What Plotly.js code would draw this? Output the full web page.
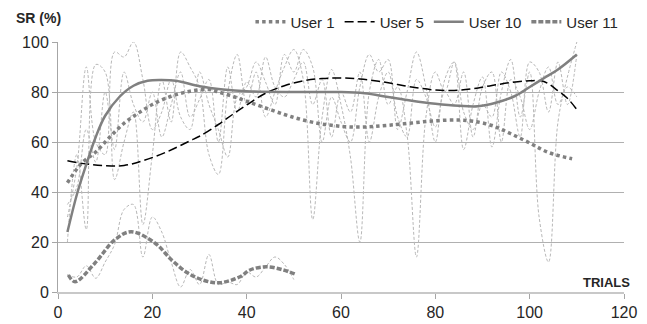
<!DOCTYPE html>
<html>
<head>
<meta charset="utf-8">
<script src="https://cdn.plot.ly/plotly-3.0.1.min.js"></script>
<style>html,body{margin:0;padding:0;background:#fff;}#chart{width:647px;height:324px;}</style>
</head>
<body>
<div id="chart"></div>
<script>
// Trend lines
var u1X = [2, 5, 8, 11, 14, 17, 20, 24, 28, 32, 34, 37, 40, 44, 48, 51, 55, 58, 62, 66, 70, 75, 80, 85, 88, 92, 96, 100, 104, 109];
var u1Y = [43.7, 51.5, 56, 62, 67.5, 71.5, 75, 78.3, 80.3, 81, 80, 78.3, 76.3, 73.6, 71, 69.3, 67.5, 66.7, 66, 66.1, 66.7, 67.6, 68.5, 68.8, 68.3, 66.6, 63.3, 59.6, 55.8, 53.3];

var u5X = [2, 6, 10, 14, 18, 23, 28, 30, 34, 37, 40, 44, 48, 52, 56, 60, 64, 68, 72, 76, 80, 84, 88, 92, 96, 100, 103, 106, 108, 110];
var u5Y = [52.5, 51.2, 50.5, 50.6, 52.5, 56, 60.5, 62.3, 67, 71, 74.8, 79.5, 82.5, 84.5, 85.4, 85.6, 85.2, 84.3, 83, 81.7, 80.8, 80.6, 81.3, 82.6, 83.8, 84.5, 84.2, 80.5, 77.5, 73];

var u10X = [2, 4, 6, 8, 10, 13, 16, 19, 22, 25, 30, 35, 40, 50, 60, 65, 70, 75, 80, 85, 89, 93, 97, 100, 103, 106, 110];
var u10Y = [24, 39, 51, 62, 70.5, 78, 82.5, 84.5, 84.8, 84.5, 82.3, 81, 80.3, 80, 80, 79.5, 78, 76.5, 75.3, 74.5, 74.3, 75.8, 78.5, 82, 85.5, 89, 95];

var u11X = [2.2, 3.6, 7.8, 12, 15.5, 20.6, 24.1, 27.6, 31.2, 34.3, 38.6, 40.7, 44.2, 47.8, 50.2];
var u11Y = [6.8, 4.1, 11.5, 20.8, 24.1, 19.5, 12.8, 7.5, 4.5, 3.7, 6.1, 8.8, 10.1, 8.8, 7.2];

// Raw data (thin lines)
var rawX = [2,4,6,8,10,12,14,16,18,20,22,24,26,28,30,32,34,36,38,40,42,44,46,48,50,52,54,56,58,60,62,64,66,68,70,72,74,76,78,80,82,84,86,88,90,92,94,96,98,100,102,104,106,108,110];
var rawA = [20,55,25,91,88,45,60,72,27,55,85,68,96,90,82,55,47,80,95,75,88,70,80,90,97,85,29,70,89,75,54,20,80,93,75,82,63,14,70,88,80,92,57,75,86,58,80,93,70,88,30,12,68,86,100];
var rawB = [30,50,90,60,55,96,94,100,85,65,72,85,70,65,88,75,65,54,78,82,92,84,75,95,88,97,90,60,78,68,60,82,95,88,93,65,80,96,82,60,85,92,72,65,75,70,88,80,62,92,88,72,92,75,95];
var rawC = [35,42,65,52,80,57,88,75,68,80,62,75,88,70,77,85,60,90,72,84,78,94,82,78,85,92,75,85,62,80,72,88,60,78,88,70,62,85,78,66,80,75,88,62,82,88,60,85,78,65,80,90,75,82,78];
var raw11X = [2,4,6,8,10,12,14,16,18,20,22,24,26,28,30,32,34,36,38,40,42,44,46,48,50];
var raw11Y = [7,6,10.5,5.5,12,19,33,35,14,30,24,12,2,9,3,15,3,4,3,8,6,10,14,11,5];

var rawLine = {color: '#b8b8b8', width: 1, dash: '3px,2px', shape: 'spline', smoothing: 1};
function rawTrace(x, y) {
  return {x: x, y: y, type: 'scatter', mode: 'lines', line: rawLine, showlegend: false, hoverinfo: 'skip'};
}

var traces = [
  rawTrace(rawX, rawA),
  rawTrace(rawX, rawB),
  rawTrace(rawX, rawC),
  rawTrace(raw11X, raw11Y),
  {x: u1X, y: u1Y, name: 'User 1', type: 'scatter', mode: 'lines',
   line: {color: '#808080', width: 3.5, dash: '3.5px,3.2px', shape: 'spline'}},
  {x: u5X, y: u5Y, name: 'User 5', type: 'scatter', mode: 'lines',
   line: {color: '#000000', width: 1.5, dash: '9px,4px', shape: 'spline'}},
  {x: u10X, y: u10Y, name: 'User 10', type: 'scatter', mode: 'lines',
   line: {color: '#808080', width: 2.5, shape: 'spline'}},
  {x: u11X, y: u11Y, name: 'User 11', type: 'scatter', mode: 'lines',
   line: {color: '#808080', width: 3.5, dash: '5px,2px', shape: 'spline'}}
];

var fam = 'Liberation Sans, Arial, sans-serif';
var tickFont = {family: fam, size: 16, color: '#262626'};

var layout = {
  width: 647, height: 324,
  margin: {l: 58, r: 23, t: 42, b: 32, autoexpand: false},
  paper_bgcolor: '#fff', plot_bgcolor: '#fff',
  font: tickFont,
  showlegend: true,
  legend: {orientation: 'h', x: 0.34, xanchor: 'left', y: 1.08, yanchor: 'middle',
           font: {family: fam, size: 15, color: '#262626'}, bgcolor: 'rgba(0,0,0,0)'},
  xaxis: {range: [0, 120], tickvals: [0, 20, 40, 60, 80, 100, 120], ticks: 'outside', ticklen: 5,
          tickcolor: '#a6a6a6', showgrid: false, zeroline: false, showline: true,
          linecolor: '#c8c8c8', linewidth: 2, tickfont: tickFont, fixedrange: true},
  yaxis: {range: [0, 100], tickvals: [0, 20, 40, 60, 80, 100], ticks: 'outside', ticklen: 5,
          tickcolor: '#a6a6a6', showgrid: true, gridcolor: '#b0b0b0', gridwidth: 1,
          zeroline: false, showline: true, linecolor: '#a6a6a6', linewidth: 1, tickfont: tickFont, fixedrange: true},
  annotations: [
    {text: '<b>SR (%)</b>', xref: 'paper', yref: 'paper', x: -0.077, y: 1.096, xanchor: 'left', yanchor: 'middle',
     showarrow: false, font: {family: fam, size: 14, color: '#262626'}},
    {text: '<b>TRIALS</b>', xref: 'paper', yref: 'paper', x: 1.0145, y: 0.04, xanchor: 'right', yanchor: 'middle',
     showarrow: false, font: {family: fam, size: 13, color: '#262626'}}
  ]
};

Plotly.newPlot('chart', traces, layout, {displayModeBar: false, staticPlot: true});
</script>
</body>
</html>
